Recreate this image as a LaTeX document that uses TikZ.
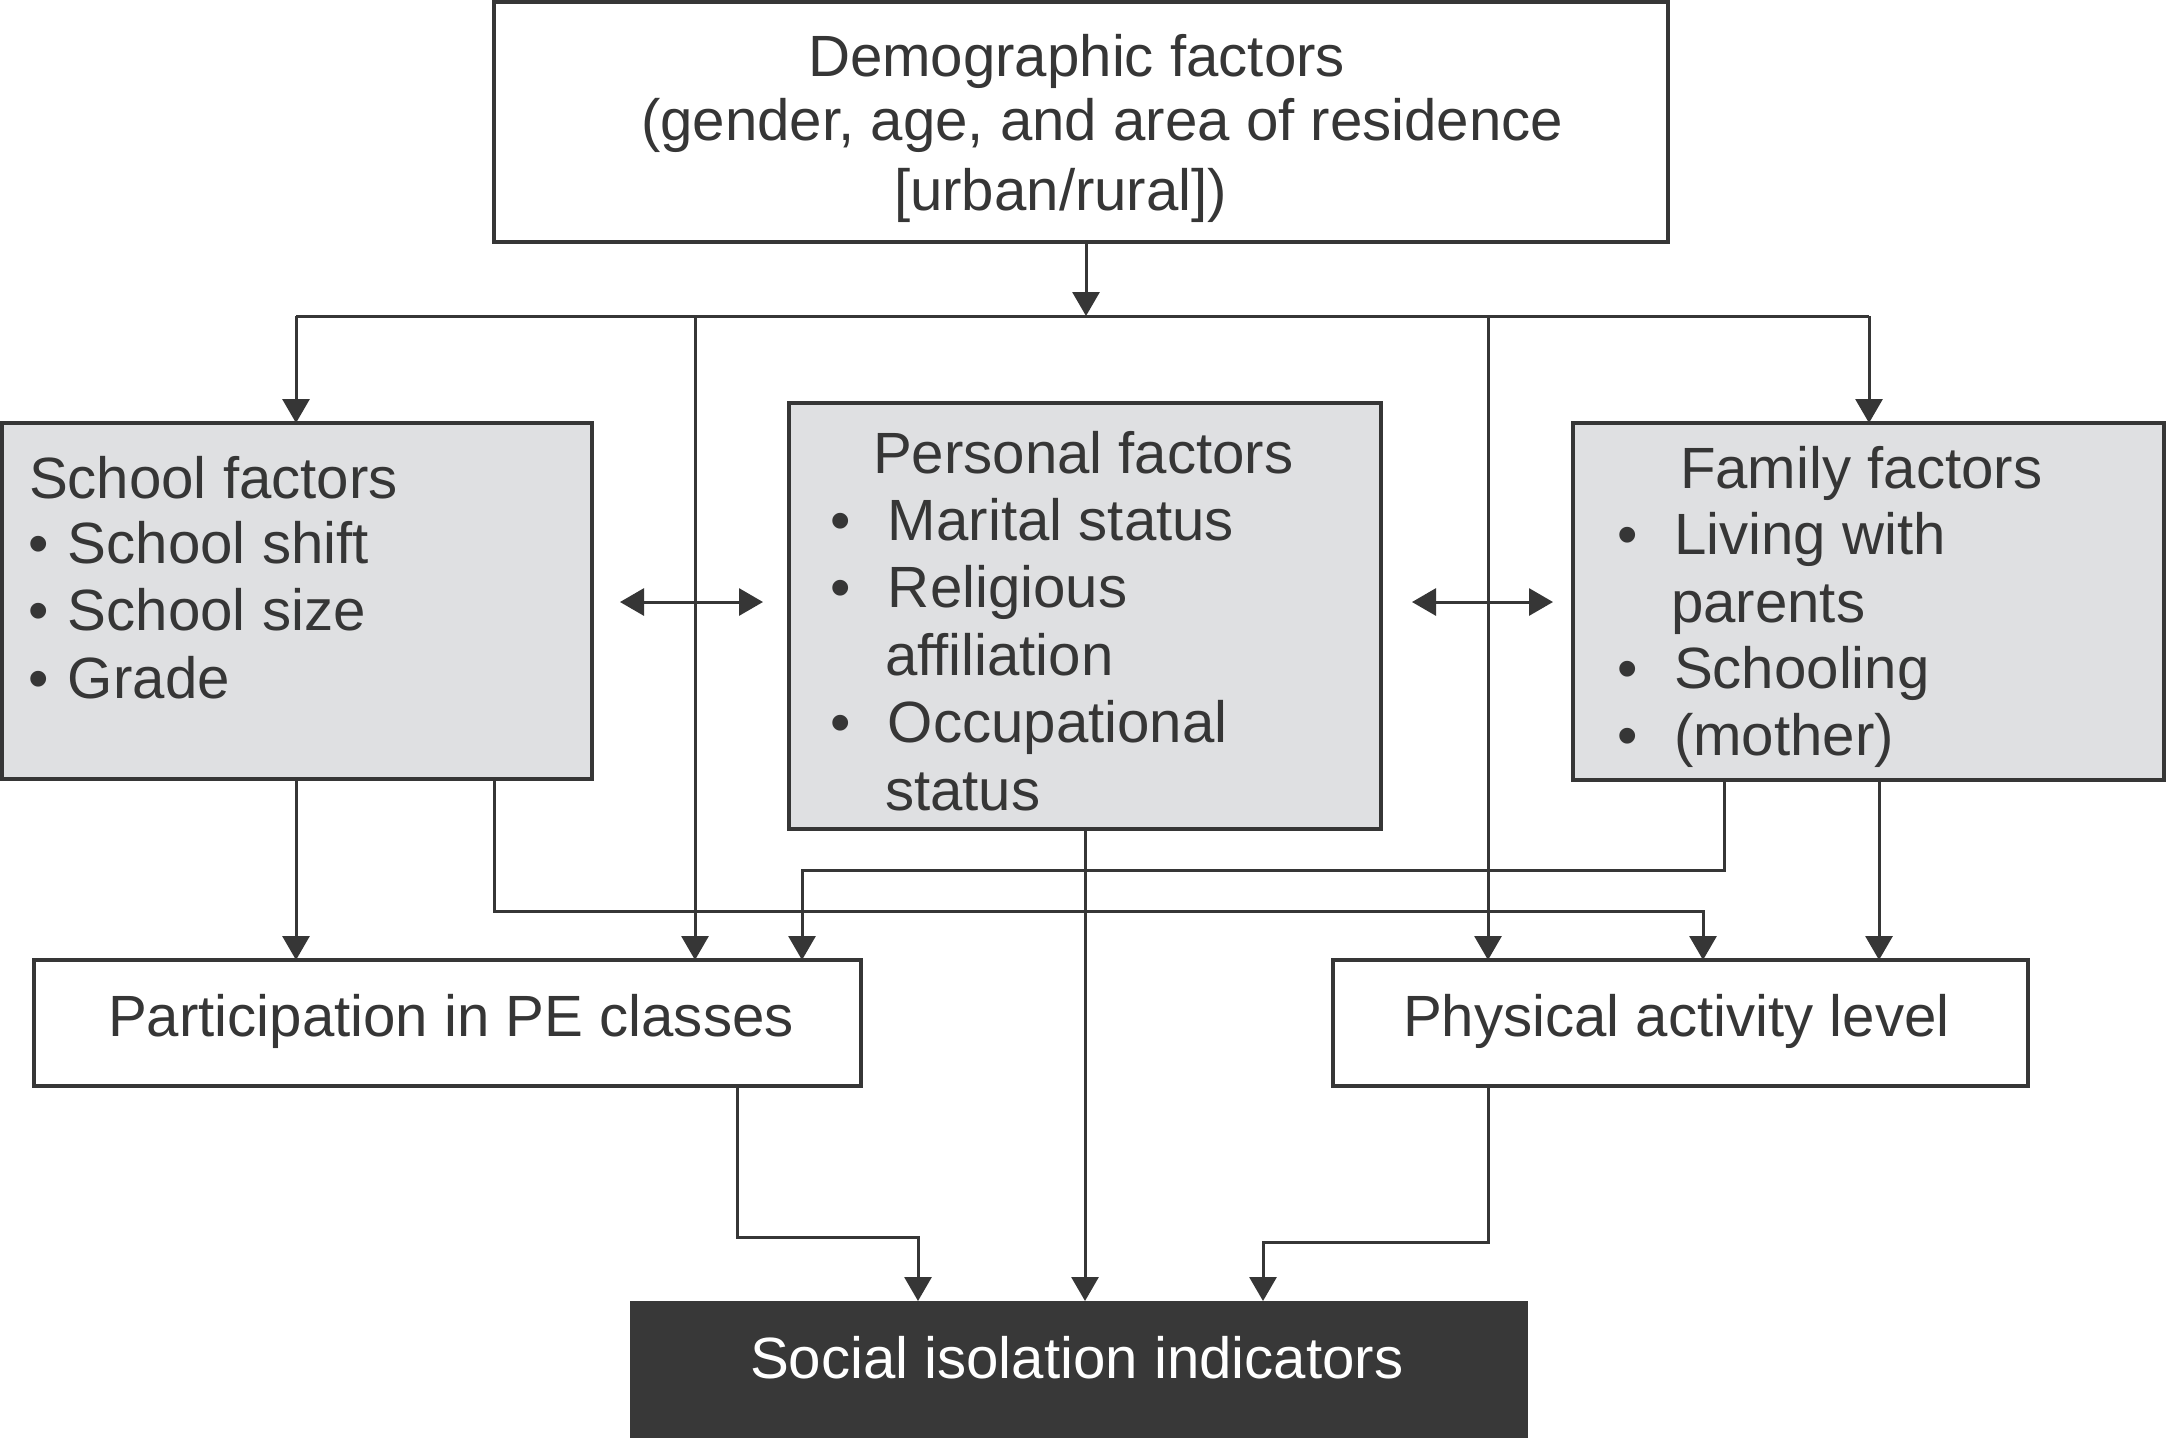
\documentclass[tikz,border=0pt]{standalone}
\usepackage{fontspec}
\setmainfont{Liberation Sans}
\usetikzlibrary{arrows.meta}
\definecolor{ink}{HTML}{363636}
\definecolor{boxgray}{HTML}{DFE0E2}
\definecolor{darkbox}{HTML}{383838}
\newcommand{\bitem}[1]{\makebox[#1][l]{•}}
\begin{document}
\begin{tikzpicture}[x=0.5pt,y=-0.5pt,
  txt/.style={anchor=base west, inner sep=0, outer sep=0, text=ink, font=\fontsize{29.1pt}{33.5pt}\selectfont},
  box/.style={draw=ink, line width=2pt, inner sep=0, outer sep=0, rectangle},
  gbox/.style={box, fill=boxgray},
  conn/.style={draw=ink, line width=1.5pt},
  arr/.style={conn, -{Triangle[length=12pt,width=13.5pt]}},
  dbl/.style={conn, {Triangle[length=12pt,width=13.5pt]}-{Triangle[length=12pt,width=13.5pt]}}]
\useasboundingbox (0,0) rectangle (2166,1437);
\fill[white] (0,0) rectangle (2166,1437);

% boxes
\node[box, minimum width=587pt, minimum height=120pt] (demo) at (1081,122) {};
\node[gbox, minimum width=295pt, minimum height=178pt] (school) at (297,601) {};
\node[gbox, minimum width=296pt, minimum height=213pt] (personal) at (1085,616) {};
\node[gbox, minimum width=295.5pt, minimum height=178.5pt] (family) at (1868.5,601.5) {};
\node[box, minimum width=413.5pt, minimum height=63pt] (pe) at (447.5,1023) {};
\node[box, minimum width=347.5pt, minimum height=63pt] (pa) at (1680.5,1023) {};
\node[fill=darkbox, inner sep=0, outer sep=0, minimum width=449pt, minimum height=72pt] (social) at (1079,1373) {};

% texts
\node[txt] (dt1) at (808,76) {Demographic factors};
\node[txt] (dt2) at (641,140) {(gender, age, and area of residence};
\node[txt] (dt3) at (894,210) {[urban/rural])};

\node[txt] (st1) at (29,498) {School factors};
\node[txt] (st2) at (28,563) {\bitem{20pt}School shift};
\node[txt] (st3) at (28,630) {\bitem{20pt}School size};
\node[txt] (st4) at (28,698) {\bitem{20pt}Grade};

\node[txt] (pt1) at (873,473) {Personal factors};
\node[txt] (pt2) at (830,540) {\bitem{29pt}Marital status};
\node[txt] (pt3) at (830,607) {\bitem{29pt}Religious};
\node[txt] (pt4) at (885,675) {affiliation};
\node[txt] (pt5) at (830,742) {\bitem{29pt}Occupational};
\node[txt] (pt6) at (885,810) {status};

\node[txt] (ft1) at (1680,488) {Family factors};
\node[txt] (ft2) at (1617,554) {\bitem{28.5pt}Living with};
\node[txt] (ft3) at (1671,622) {parents};
\node[txt] (ft4) at (1617,688) {\bitem{28.5pt}Schooling};
\node[txt] (ft5) at (1617,755) {\bitem{28.5pt}(mother)};

\node[txt] (pet) at (108,1036) {Participation in PE classes};
\node[txt] (pat) at (1403,1036) {Physical activity level};
\node[txt, text=white] (sot) at (750,1378) {Social isolation indicators};

% connectors
\coordinate (h0) at (296,316);
\coordinate (h1) at (695,316);
\coordinate (h2) at (1488,316);
\coordinate (h3) at (1869,316);
\draw[arr] ([xshift=2.5pt]demo.south) -- ([xshift=2.5pt]demo.south |- h0);
\draw[conn] (h0) -- (h3);
\draw[arr] (h0) -- (h0 |- school.north);
\draw[arr] (h1) -- (h1 |- pe.north);
\draw[arr] (h2) -- (h2 |- pa.north);
\draw[arr] (h3) -- (h3 |- family.north);

\coordinate (s1) at (296,900);
\draw[arr] (s1 |- school.south) -- (s1 |- pe.north);
\coordinate (s2) at (494,911);
\coordinate (s3) at (1703,911);
\draw[arr] (s2 |- school.south) -- (s2) -- (s3) -- (s3 |- pa.north);

\coordinate (f1) at (1724,870);
\coordinate (f2) at (802,870);
\draw[arr] (f1 |- family.south) -- (f1) -- (f2) -- (f2 |- pe.north);
\coordinate (f3) at (1879,900);
\draw[arr] (f3 |- family.south) -- (f3 |- pa.north);

\draw[arr] (personal.south) -- (personal.south |- social.north);

\coordinate (p1) at (737,1237);
\coordinate (p2) at (918,1237);
\draw[arr] (p1 |- pe.south) -- (p1) -- (p2) -- (p2 |- social.north);
\coordinate (q1) at (1488,1242);
\coordinate (q2) at (1263,1242);
\draw[arr] (q1 |- pa.south) -- (q1) -- (q2) -- (q2 |- social.north);

\coordinate (d1) at (620,602);
\coordinate (d2) at (763,602);
\draw[dbl] (d1) -- (d2);
\coordinate (d3) at (1412,602);
\coordinate (d4) at (1553,602);
\draw[dbl] (d3) -- (d4);
\end{tikzpicture}
\end{document}
